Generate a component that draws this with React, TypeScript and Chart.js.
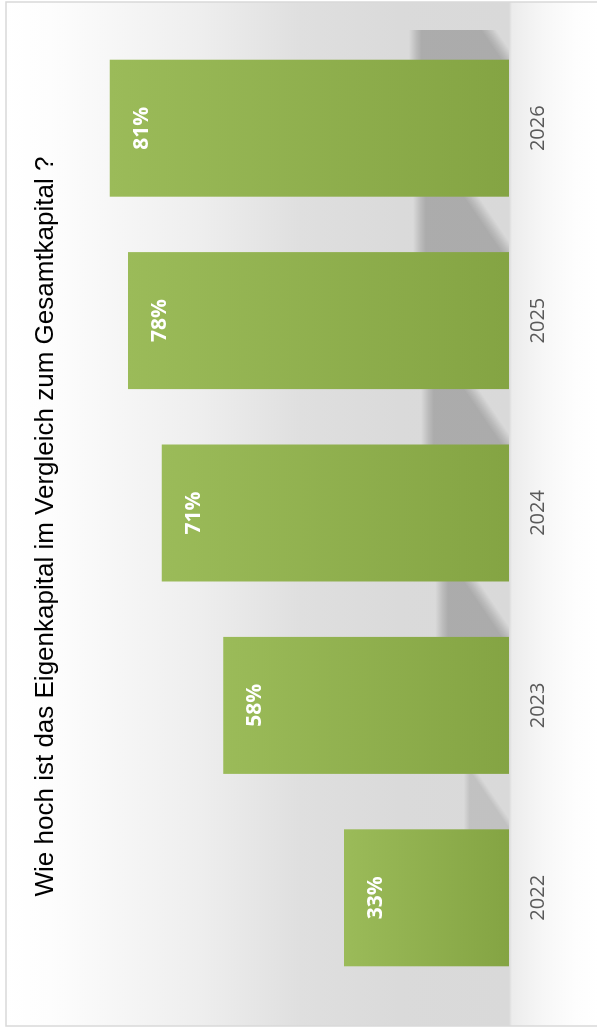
import React, { useEffect, useRef } from "react";
import { Chart, registerables } from "chart.js";

Chart.register(...registerables);

const TITLE = "Wie hoch ist das Eigenkapital im Vergleich zum Gesamtkapital ?";
const years = ["2022", "2023", "2024", "2025", "2026"];
const equityShare = [33.6, 58.2, 70.7, 77.6, 81.3];
const valueLabels = ["33%", "58%", "71%", "78%", "81%"];

const W = 1033;
const H = 597;

export default function App() {
  const ref = useRef<HTMLCanvasElement>(null);

  useEffect(() => {
    const canvas = ref.current!;

    const bgPlugin = {
      id: "bgPlugin",
      beforeDraw(chart: any) {
        const ctx = chart.ctx as CanvasRenderingContext2D;
        ctx.save();
        ctx.fillStyle = "#ffffff";
        ctx.fillRect(0, 0, W, H);
        const g = ctx.createLinearGradient(0, 6, 0, H);
        const s = (y: number) => (y - 6) / (H - 6);
        g.addColorStop(0, "#ffffff");
        g.addColorStop(s(50), "#fdfdfd");
        g.addColorStop(s(200), "#eeeeee");
        g.addColorStop(s(300), "#dfdfdf");
        g.addColorStop(s(400), "#dadada");
        g.addColorStop(s(509), "#d9d9d9");
        g.addColorStop(s(512), "#ececec");
        g.addColorStop(s(545), "#f7f7f7");
        g.addColorStop(s(575), "#fdfdfd");
        g.addColorStop(1, "#ffffff");
        ctx.fillStyle = g;
        ctx.fillRect(7, 6, 1031 - 7, H);
        ctx.strokeStyle = "#d9d9d9";
        ctx.lineWidth = 1.5;
        ctx.strokeRect(7, 6, 1031 - 7, H + 10);
        ctx.font = "26px 'Liberation Sans', Arial, sans-serif";
        ctx.fillStyle = "#000000";
        ctx.textAlign = "center";
        ctx.textBaseline = "alphabetic";
        ctx.fillText(TITLE, 506.5, 53);
        ctx.restore();
      },
      beforeDatasetsDraw(chart: any) {
        const ctx = chart.ctx as CanvasRenderingContext2D;
        const meta = chart.getDatasetMeta(0);
        const base = chart.scales.y.getPixelForValue(0);
        const ca = chart.chartArea;
        ctx.save();
        ctx.beginPath();
        ctx.rect(ca.left, ca.top - 20, ca.right + 2 - ca.left, base - ca.top + 20);
        ctx.clip();
        const layers = 13;
        const a = 1 - Math.pow(0.815, 1 / layers);
        ctx.fillStyle = `rgba(0,0,0,${a})`;
        meta.data.forEach((bar: any) => {
          const { x, y, width } = bar.getProps(["x", "y", "width"], true);
          const xr = x + width / 2;
          const len = base - y;
          const w = len * 0.235;
          const L = Math.min(62, w / 0.68);
          for (let j = 0; j < layers; j++) {
            const k = j - (layers - 1) / 2;
            const Lk = L - k;
            if (Lk <= 0) continue;
            const topY = base - w + k;
            const diagEnd = base - 0.68 * Lk - 1.2 * k;
            if (diagEnd <= topY) continue;
            ctx.beginPath();
            ctx.moveTo(xr - 6, base + 8);
            ctx.lineTo(xr - 6, topY);
            ctx.lineTo(xr + Lk, topY);
            ctx.lineTo(xr + Lk, diagEnd);
            ctx.lineTo(xr, base - 1.2 * k);
            ctx.lineTo(xr, base + 8);
            ctx.closePath();
            ctx.fill();
          }
        });
        ctx.restore();
      },
      afterDatasetsDraw(chart: any) {
        const ctx = chart.ctx as CanvasRenderingContext2D;
        const meta = chart.getDatasetMeta(0);
        ctx.save();
        ctx.font = "bold 21px 'Open Sans', sans-serif";
        ctx.fillStyle = "#ffffff";
        ctx.textAlign = "center";
        ctx.textBaseline = "alphabetic";
        meta.data.forEach((bar: any, i: number) => {
          const { x, y } = bar.getProps(["x", "y"], true);
          ctx.fillText(valueLabels[i], x, y + 38);
        });
        ctx.restore();
      },
    };

    const chart = new Chart(canvas, {
      type: "bar",
      data: {
        labels: years,
        datasets: [
          {
            data: equityShare,
            backgroundColor: (c: any) => {
              const ch = c.chart;
              if (!ch.chartArea || c.raw == null) return "#91b24e";
              const ys = ch.scales.y;
              const top = ys.getPixelForValue(c.raw as number);
              const base = ys.getPixelForValue(0);
              const g = ch.ctx.createLinearGradient(0, top, 0, base);
              g.addColorStop(0, "#9bbb59");
              g.addColorStop(1, "#84a443");
              return g;
            },
            borderWidth: 0,
            barPercentage: 0.712,
            categoryPercentage: 1,
          },
        ],
      },
      options: {
        responsive: false,
        animation: false,
        devicePixelRatio: 1,
        layout: { padding: { left: 39, right: 32, top: 67, bottom: 0 } },
        plugins: {
          legend: { display: false },
          title: { display: false },
          tooltip: { enabled: false },
        },
        scales: {
          x: {
            grid: { display: false, drawTicks: false },
            border: { display: false },
            ticks: {
              color: "#595959",
              font: { family: "'Open Sans', sans-serif", size: 20 },
              padding: 17,
            },
            afterFit: (s: any) => {
              s.height = 88;
            },
          },
          y: { display: false, min: 0, max: 90 },
        },
      },
      plugins: [bgPlugin],
    } as any);

    return () => chart.destroy();
  }, []);

  return (
    <div
      style={{
        position: "fixed",
        left: 0,
        top: 0,
        width: 597,
        height: 1033,
        overflow: "hidden",
        background: "#ffffff",
      }}
    >
      <canvas
        ref={ref}
        width={W}
        height={H}
        style={{
          position: "absolute",
          left: 0,
          top: 0,
          width: W,
          height: H,
          transformOrigin: "0 0",
          transform: "translateY(1033px) rotate(-90deg)",
        }}
      />
    </div>
  );
}
